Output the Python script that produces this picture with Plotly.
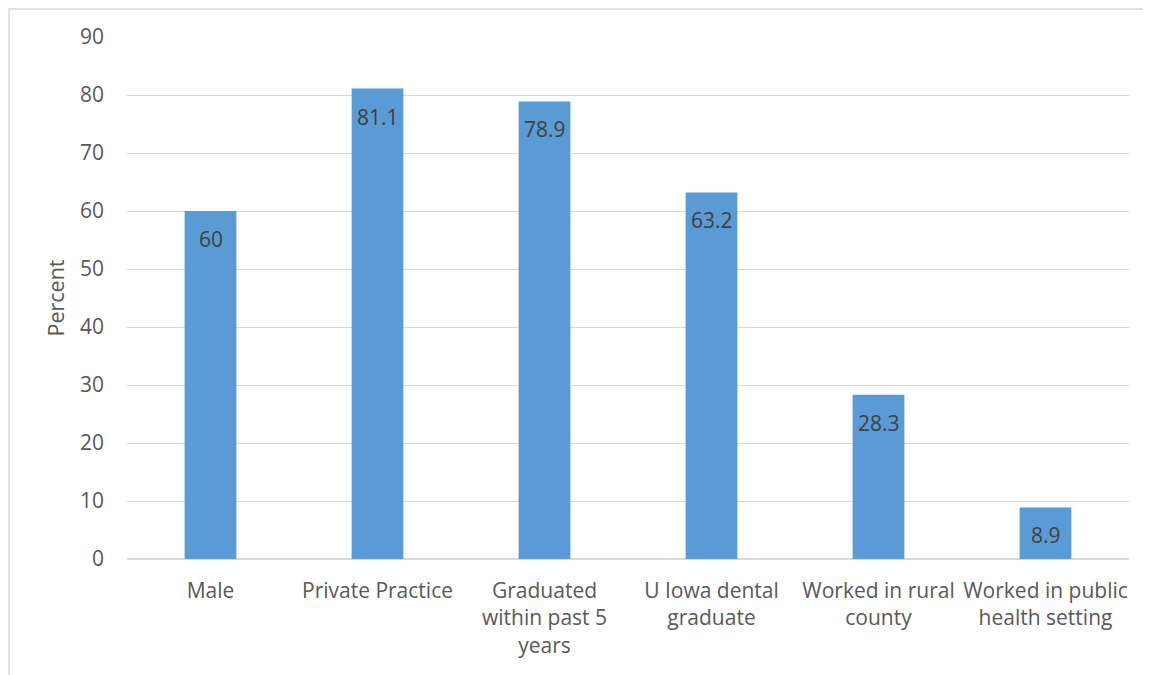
import plotly.graph_objects as go

categories = ["Male", "Private Practice", "Graduated<br>within past 5<br>years",
              "U Iowa dental<br>graduate", "Worked in rural<br>county",
              "Worked in public<br>health setting"]
values = [60, 81.1, 78.9, 63.2, 28.3, 8.9]
labels = ["60", "81.1", "78.9", "63.2", "28.3", "8.9"]
y_ticks = [0, 10, 20, 30, 40, 50, 60, 70, 80, 90]

font_family = "'Open Sans', sans-serif"

fig = go.Figure(go.Bar(
    x=categories, y=values,
    marker=dict(color="#5B9BD5", line=dict(width=0)),
    hoverinfo="skip",
))

annotations = [dict(x=c, y=v, text=t, showarrow=False, xref="x", yref="y",
                    yanchor="middle", yshift=-28,
                    font=dict(size=21, color="#404040", family=font_family))
               for c, v, t in zip(categories, values, labels)]

L, T, PW, PH = 119, 29, 1002, 522

fig.update_layout(
    width=1143, height=667,
    margin=dict(l=L, r=22, t=T, b=116),
    paper_bgcolor="white", plot_bgcolor="white",
    bargap=0.69,
    showlegend=False,
    font=dict(family=font_family, size=21, color="#595959"),
    xaxis=dict(showgrid=False, showline=False, ticks="", tickfont=dict(size=21, color="#595959"),
               ticklabelstandoff=17),
    yaxis=dict(range=[0, 90], tickvals=y_ticks, showgrid=True, gridcolor="#d9d9d9", gridwidth=1,
               zeroline=True, zerolinecolor="#d9d9d9", zerolinewidth=1.5,
               showline=False, ticks="", tickfont=dict(size=21, color="#595959"),
               ticklabelstandoff=22,
               title=dict(text="Percent", font=dict(size=21.5, color="#595959"), standoff=9)),
    annotations=annotations,
    shapes=[dict(type="rect", xref="paper", yref="paper",
                 x0=-(L - 1) / PW, x1=1.1, y0=-0.4, y1=1 + (T - 1) / PH,
                 line=dict(color="#d9d9d9", width=1.5), fillcolor="rgba(0,0,0,0)", layer="below")],
)

fig.write_html("out.html")
